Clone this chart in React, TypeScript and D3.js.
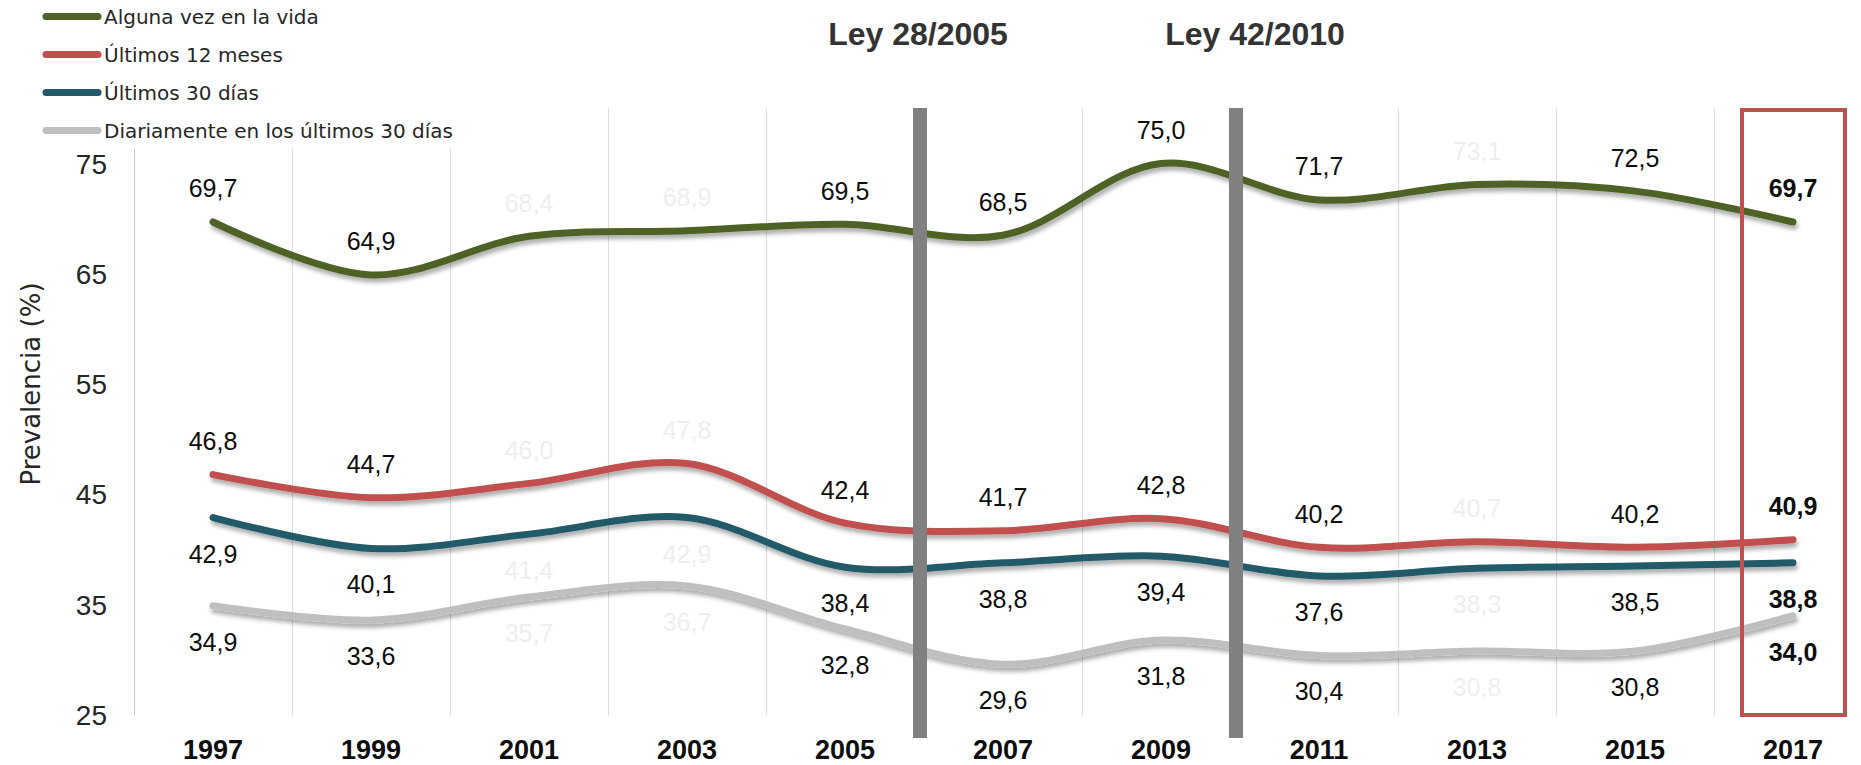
import React, { useEffect, useRef } from 'react';
import * as d3 from 'd3';

const years = ['1997', '1999', '2001', '2003', '2005', '2007', '2009', '2011', '2013', '2015', '2017'];
const algunaVez = [69.7, 64.9, 68.4, 68.9, 69.5, 68.5, 75.0, 71.7, 73.1, 72.5, 69.7];
const ultimos12 = [46.8, 44.7, 46.0, 47.8, 42.4, 41.7, 42.8, 40.2, 40.7, 40.2, 40.9];
const ultimos30 = [42.9, 40.1, 41.4, 42.9, 38.4, 38.8, 39.4, 37.6, 38.3, 38.5, 38.8];
const diario30 = [34.9, 33.6, 35.7, 36.7, 32.8, 29.6, 31.8, 30.4, 30.8, 30.8, 34.0];
const yTicks = [25, 35, 45, 55, 65, 75];
const faintYears = ['2001', '2003', '2013'];
const highlightYear = '2017';
const laws = [
  { label: 'Ley 28/2005', after: '2005' },
  { label: 'Ley 42/2010', after: '2009' },
];

const series = [
  { name: 'Alguna vez en la vida', values: algunaVez, color: '#4f6228', pos: 'above' },
  { name: 'Últimos 12 meses', values: ultimos12, color: '#c0504d', pos: 'above' },
  { name: 'Últimos 30 días', values: ultimos30, color: '#215a69', pos: 'below' },
  { name: 'Diariamente en los últimos 30 días', values: diario30, color: '#bfbfbf', pos: 'below' },
];

const W = 1861;
const H = 765;
const numFont = '"Liberation Sans", Arial, sans-serif';
const textFont = '"DejaVu Sans", sans-serif';

const fmt = (v: number) => d3.format('.1f')(v).replace('.', ',');

export default function App() {
  const ref = useRef<SVGSVGElement | null>(null);

  useEffect(() => {
    if (!ref.current) return;
    const svg = d3.select(ref.current);
    svg.selectAll('*').remove();

    const x = d3.scaleBand<string>().domain(years).range([134, 134 + 158 * years.length]).padding(0);
    const y = d3.scaleLinear().domain([25, 80]).range([715, 108.4]);
    const cx = (yr: string) => (x(yr) as number) + x.bandwidth() / 2;

    const defs = svg.append('defs');
    const filter = defs.append('filter')
      .attr('id', 'lineShadow')
      .attr('x', '-10%').attr('y', '-50%')
      .attr('width', '120%').attr('height', '200%');
    filter.append('feDropShadow')
      .attr('dx', 1.5)
      .attr('dy', 4)
      .attr('stdDeviation', 2.2)
      .attr('flood-color', '#000')
      .attr('flood-opacity', 0.32);

    // vertical category gridlines
    const grid = svg.append('g');
    years.forEach((yr, i) => {
      const gx = (x(yr) as number);
      grid.append('line')
        .attr('x1', gx + 0.5).attr('x2', gx + 0.5)
        .attr('y1', y(80)).attr('y2', y(25))
        .attr('stroke', i === 0 ? '#c8c8c8' : '#dcdcdc')
        .attr('stroke-width', 1);
    });

    // y axis labels
    svg.append('g').selectAll('text')
      .data(yTicks)
      .enter()
      .append('text')
      .attr('x', 107)
      .attr('y', d => y(d))
      .attr('dy', '0.36em')
      .attr('text-anchor', 'end')
      .style('font-family', numFont)
      .style('font-size', '28px')
      .style('fill', '#262626')
      .text(d => d);

    svg.append('text')
      .attr('transform', 'translate(40, 384) rotate(-90)')
      .attr('text-anchor', 'middle')
      .style('font-family', textFont)
      .style('font-size', '26px')
      .style('fill', '#262626')
      .text('Prevalencia (%)');

    // x axis labels
    svg.append('g').selectAll('text')
      .data(years)
      .enter()
      .append('text')
      .attr('x', d => cx(d))
      .attr('y', 759)
      .attr('text-anchor', 'middle')
      .style('font-family', numFont)
      .style('font-weight', 'bold')
      .style('font-size', '27px')
      .style('fill', '#0d0d0d')
      .text(d => d);

    // lines
    const line = d3.line<number>()
      .x((_, i) => cx(years[i]))
      .y(d => y(d))
      .curve(d3.curveCatmullRom.alpha(0.5));

    series.forEach(s => {
      svg.append('path')
        .datum(s.values)
        .attr('d', line)
        .attr('fill', 'none')
        .attr('stroke', s.color)
        .attr('stroke-width', 7)
        .attr('stroke-linecap', 'round')
        .style('filter', 'url(#lineShadow)');
    });

    // data labels
    series.forEach(s => {
      svg.append('g').selectAll('text')
        .data(s.values)
        .enter()
        .append('text')
        .attr('x', (_, i) => cx(years[i]))
        .attr('y', d => y(d) + (s.pos === 'above' ? -24.5 : 45))
        .attr('text-anchor', 'middle')
        .style('font-family', numFont)
        .style('font-size', '25px')
        .style('font-weight', (_, i) => (years[i] === highlightYear ? 'bold' : 'normal'))
        .style('fill', (_, i) => (faintYears.includes(years[i]) ? '#eeeeee' : '#0d0d0d'))
        .text(d => fmt(d));
    });

    // law bars and titles
    const lawDx = [-2, 19];
    laws.forEach((l, i) => {
      const bx = (x(l.after) as number) + x.bandwidth() - 4;
      svg.append('rect')
        .attr('x', bx - 7)
        .attr('y', 108)
        .attr('width', 14)
        .attr('height', 630)
        .attr('fill', '#808080');
      svg.append('text')
        .attr('x', bx + lawDx[i])
        .attr('y', 45)
        .attr('text-anchor', 'middle')
        .style('font-family', numFont)
        .style('font-weight', 'bold')
        .style('font-size', '32px')
        .style('fill', '#333333')
        .text(l.label);
    });

    // highlight box for last year
    const hx = cx(highlightYear);
    svg.append('rect')
      .attr('x', hx - 51)
      .attr('y', 110)
      .attr('width', 103)
      .attr('height', 605)
      .attr('fill', 'none')
      .attr('stroke', '#c0504d')
      .attr('stroke-width', 4);

    // legend
    const legend = svg.append('g');
    legend.append('rect')
      .attr('x', 0).attr('y', 0)
      .attr('width', 460).attr('height', 149)
      .attr('fill', '#fff');
    const legendY = [16.5, 54.5, 92.5, 130.5];
    series.forEach((s, i) => {
      legend.append('line')
        .attr('x1', 46).attr('x2', 98)
        .attr('y1', legendY[i]).attr('y2', legendY[i])
        .attr('stroke', s.color)
        .attr('stroke-width', 7)
        .attr('stroke-linecap', 'round');
      legend.append('text')
        .attr('x', 104)
        .attr('y', legendY[i])
        .attr('dy', '0.36em')
        .style('font-family', textFont)
        .style('font-size', '20px')
        .style('fill', '#262626')
        .text(s.name);
    });
  }, []);

  return (
    <svg
      ref={ref}
      width={W}
      height={H}
      style={{ position: 'absolute', left: 0, top: 0, background: '#fff' }}
    />
  );
}
